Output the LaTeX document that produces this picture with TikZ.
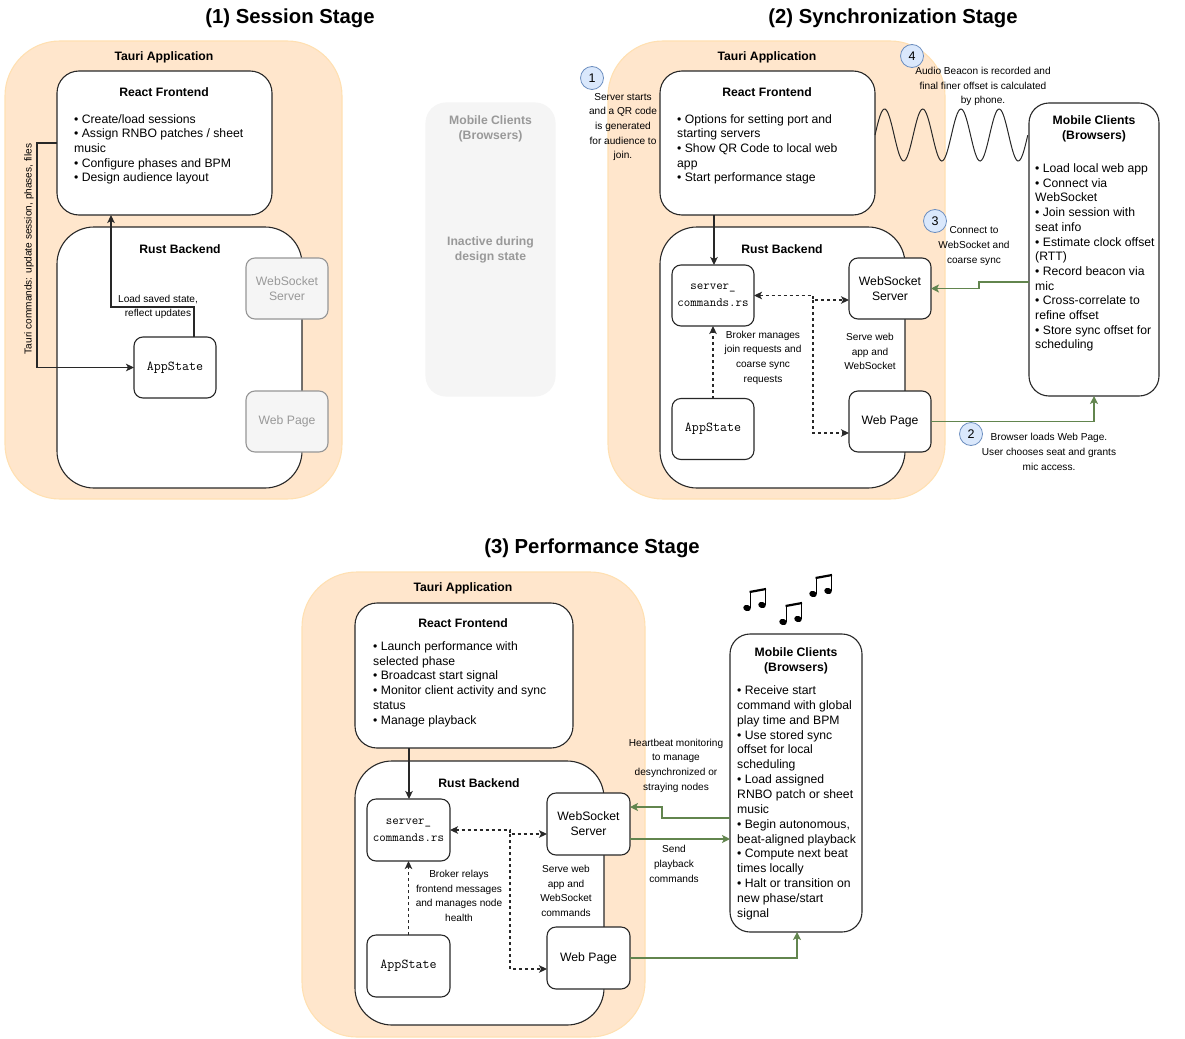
\documentclass[tikz,border=0pt]{standalone}
\usepackage{fontspec}
\setmainfont{Liberation Sans}
\usepackage{xcolor}
\usetikzlibrary{arrows.meta}
\definecolor{tauriorange}{RGB}{255,230,204}
\definecolor{tauririm}{RGB}{255,224,178}
\definecolor{boxline}{RGB}{40,40,40}
\definecolor{inactivefill}{RGB}{245,245,245}
\definecolor{inactiveline}{RGB}{150,150,150}
\definecolor{inactivetext}{RGB}{153,153,153}
\definecolor{linkgreen}{RGB}{98,133,78}
\definecolor{badgeblue}{RGB}{218,232,252}
\definecolor{badgeline}{RGB}{108,142,191}
\tikzset{
	basebox/.style={anchor=north west,inner sep=0pt,outer sep=0pt,line width=1.1pt},
	tauribox/.style={basebox,fill=tauriorange,draw=tauririm,rounded corners=55pt},
	frontbox/.style={basebox,fill=white,draw=boxline,rounded corners=22pt},
	rustbox/.style={basebox,fill=white,draw=boxline,rounded corners=37pt},
	smallbox/.style={basebox,fill=white,draw=boxline,rounded corners=9pt,align=center,anchor=center,font=\fontsize{12.2}{15}\selectfont},
	monobox/.style={smallbox,font=\fontsize{13.6}{17}\selectfont\ttfamily},
	greybox/.style={smallbox,fill=inactivefill,draw=inactiveline,text=inactivetext},
	clientbox/.style={basebox,fill=white,draw=boxline,rounded corners=20pt},
	stagetitle/.style={font=\fontsize{20.3}{25}\selectfont\bfseries,inner sep=0pt,yshift=-2pt},
	boxtitle/.style={font=\fontsize{12.2}{15}\selectfont\bfseries,align=center,inner sep=0pt,yshift=-1pt},
	listtext/.style={font=\fontsize{12.2}{14.7}\selectfont,align=left,anchor=north west,inner sep=0pt,yshift=-1pt},
	smalltext/.style={font=\fontsize{10.1}{14.7}\selectfont,align=center,inner sep=0pt,yshift=-1pt},
	badge/.style={circle,fill=badgeblue,draw=badgeline,line width=0.8pt,minimum size=23pt,inner sep=0pt,font=\fontsize{12.5}{15}\selectfont},
	flowline/.style={line width=1.1pt,draw=boxline,-{Stealth[length=8pt,width=7.5pt,inset=2pt]}},
	dashline/.style={line width=1.1pt,draw=boxline,dash pattern=on 3pt off 3pt,-{Stealth[length=8pt,width=7.5pt,inset=2pt]}},
	greenline/.style={line width=1.3pt,draw=linkgreen,-{Stealth[length=8pt,width=8pt,inset=2pt]}},
	notepair/.pic={
		\fill[rotate around={-15:(0,0)}] (0,0) ellipse (3.8 and 3.1);
		\fill[rotate around={-15:(15,-3)}] (15,-3) ellipse (3.8 and 3.1);
		\draw[line width=1.4pt] (3.3,0) -- (3.3,-16);
		\draw[line width=1.4pt] (18.3,-3) -- (18.3,-19);
		\draw[line width=2.2pt] (2.6,-16) -- (19,-19);
	}
}
\begin{document}
\begin{tikzpicture}[x=1pt,y=-1pt]
	\useasboundingbox (0,0) rectangle (1185,1038);

	% Session stage
	\node[stagetitle] (title1) at (290,16) {(1) Session Stage};
	\node[tauribox,minimum width=337pt,minimum height=458pt] (app1) at (5,41) {};
	\node[boxtitle] (applabel1) at (164,56) {Tauri Application};
	\node[frontbox,minimum width=215pt,minimum height=144pt] (front1) at (57,71) {};
	\node[boxtitle] (frontlabel1) at (164,91) {React Frontend};
	\node[listtext] (frontlist1) at (74,113) {• Create/load sessions\\• Assign RNBO patches / sheet\\music\\• Configure phases and BPM\\• Design audience layout};
	\node[rustbox,minimum width=245pt,minimum height=261pt] (rust1) at (57,227) {};
	\node[boxtitle] (rustlabel1) at (180,248) {Rust Backend};
	\node[monobox,minimum width=82pt,minimum height=61pt] (state1) at (175,367.5) {AppState};
	\node[greybox,minimum width=82pt,minimum height=61pt] (ws1) at (287,288.5) {WebSocket\\Server};
	\node[greybox,minimum width=82pt,minimum height=61pt] (web1) at (287,421.5) {Web Page};
	\node[basebox,fill=inactivefill,draw=inactivefill,rounded corners=20pt,minimum width=129pt,minimum height=293pt] (client1) at (426,103) {};
	\node[boxtitle,text=inactivetext] (clientlabel1) at (490.5,128) {Mobile Clients\\(Browsers)};
	\node[boxtitle,text=inactivetext] (inactive1) at (490.5,249) {Inactive during\\design state};

	% Tauri commands and state updates
	\coordinate (stateout1) at (194,337);
	\coordinate (frontin1) at (111,215);
	\draw[flowline] (front1.west |- 0,143) -- (37,143) |- (state1.west);
	\draw[flowline] (stateout1) -- (194,307) -- (111,307) -- (frontin1);
	\node[smalltext,rotate=90] (cmdlabel1) at (29,248) {Tauri commands: update session, phases, files};
	\node[smalltext] (loadlabel1) at (158,306) {Load saved state,\\reflect updates};

	% Synchronization stage
	\node[stagetitle] (title2) at (893,16) {(2) Synchronization Stage};
	\node[tauribox,minimum width=337pt,minimum height=458pt] (app2) at (608,41) {};
	\node[boxtitle] (applabel2) at (767,56) {Tauri Application};
	\node[frontbox,minimum width=215pt,minimum height=144pt] (front2) at (660,71) {};
	\node[boxtitle] (frontlabel2) at (767,91) {React Frontend};
	\node[listtext] (frontlist2) at (677,113) {• Options for setting port and\\starting servers\\• Show QR Code to local web\\app\\• Start performance stage};
	\node[rustbox,minimum width=245pt,minimum height=261pt] (rust2) at (660,227) {};
	\node[boxtitle] (rustlabel2) at (782,248) {Rust Backend};
	\node[monobox,font=\fontsize{12.6}{17}\selectfont\ttfamily,minimum width=82pt,minimum height=61pt] (srv2) at (713,295.5) {server\_\\commands.rs};
	\node[monobox,minimum width=82pt,minimum height=61pt] (state2) at (713,429) {AppState};
	\node[smallbox,minimum width=82pt,minimum height=61pt] (ws2) at (890,288.5) {WebSocket\\Server};
	\node[smallbox,minimum width=82pt,minimum height=61pt] (web2) at (890,421.5) {Web Page};
	\node[clientbox,minimum width=130pt,minimum height=293pt] (client2) at (1029,103) {};
	\node[boxtitle] (clientlabel2) at (1094,128) {Mobile Clients\\(Browsers)};
	\node[listtext] (clientlist2) at (1035,162.5) {• Load local web app\\• Connect via\\WebSocket\\• Join session with\\seat info\\• Estimate clock offset\\(RTT)\\• Record beacon via\\mic\\• Cross-correlate to\\refine offset\\• Store sync offset for\\scheduling};

	% Sync links
	\coordinate (jct2) at (813,300);
	\coordinate (webin2) at (849,433);
	\coordinate (clientout2) at (1029,282);
	\coordinate (clientin2) at (1094,396);
	\draw[flowline] (714,215) -- (714,265);
	\draw[dashline] (state2.north) -- (srv2.south);
	\draw[dashline,{Stealth[length=8pt,width=7.5pt,inset=2pt]}-{Stealth[length=8pt,width=7.5pt,inset=2pt]}] (srv2.east) -| (jct2) -- (jct2 -| ws2.west);
	\draw[dashline] (jct2) |- (webin2);
	\draw[greenline] (clientout2) -- (979,282) -- (979,288.5) -- (ws2.east);
	\draw[greenline] (web2.east) -| (clientin2);

	% Audio beacon
	\draw[line width=1pt,draw=boxline,smooth] plot[domain=0:4,samples=120] ({875+38.2*\x},{135-26*sin(360*\x)});

	% Step badges
	\node[badge] (step1) at (592,78) {1};
	\node[badge] (step4) at (912,56) {4};
	\node[badge] (step3) at (935,221) {3};
	\node[badge] (step2) at (971,434) {2};
	\node[smalltext] (steplabel1) at (623,126) {Server starts\\and a QR code\\is generated\\for audience to\\join.};
	\node[smalltext] (steplabel4) at (983,85.5) {Audio Beacon is recorded and\\final finer offset is calculated\\by phone.};
	\node[smalltext] (steplabel3) at (974,245) {Connect to\\WebSocket and\\coarse sync};
	\node[smalltext] (steplabel2) at (1049,451) {Browser loads Web Page.\\User chooses seat and grants\\mic access.};
	\node[smalltext] (brokerlabel2) at (763,356.5) {Broker manages\\join requests and\\coarse sync\\requests};
	\node[smalltext] (servelabel2) at (870,350.5) {Serve web\\app and\\WebSocket};

	% Performance stage
	\node[stagetitle] (title3) at (592,546) {(3) Performance Stage};
	\node[tauribox,minimum width=343pt,minimum height=465pt] (app3) at (302,572) {};
	\node[boxtitle] (applabel3) at (463,587) {Tauri Application};
	\node[frontbox,minimum width=218pt,minimum height=145pt] (front3) at (355,603) {};
	\node[boxtitle] (frontlabel3) at (463,622.5) {React Frontend};
	\node[listtext] (frontlist3) at (373,640.5) {• Launch performance with\\selected phase\\• Broadcast start signal\\• Monitor client activity and sync\\status\\• Manage playback};
	\node[rustbox,minimum width=249pt,minimum height=264pt] (rust3) at (355,761) {};
	\node[boxtitle] (rustlabel3) at (479,782.5) {Rust Backend};
	\node[monobox,font=\fontsize{12.6}{17}\selectfont\ttfamily,minimum width=83pt,minimum height=62pt] (srv3) at (408.5,830) {server\_\\commands.rs};
	\node[monobox,minimum width=83pt,minimum height=62pt] (state3) at (408.5,966) {AppState};
	\node[smallbox,minimum width=83pt,minimum height=62pt] (ws3) at (588.5,824) {WebSocket\\Server};
	\node[smallbox,minimum width=83pt,minimum height=62pt] (web3) at (588.5,958) {Web Page};
	\node[clientbox,minimum width=132pt,minimum height=298pt] (client3) at (730,634) {};
	\node[boxtitle] (clientlabel3) at (796,660) {Mobile Clients\\(Browsers)};
	\node[listtext,font=\fontsize{12.2}{14.85}\selectfont] (clientlist3) at (737,684.5) {• Receive start\\command with global\\play time and BPM\\• Use stored sync\\offset for local\\scheduling\\• Load assigned\\RNBO patch or sheet\\music\\• Begin autonomous,\\beat-aligned playback\\• Compute next beat\\times locally\\• Halt or transition on\\new phase/start\\signal};

	% Performance links
	\coordinate (jct3) at (510,834);
	\coordinate (webin3) at (547,969);
	\coordinate (clientout3) at (730,818);
	\coordinate (clientin3) at (797,932);
	\draw[flowline] (409,748) -- (409,799);
	\draw[dashline] (state3.north) -- (srv3.south);
	\draw[dashline,{Stealth[length=8pt,width=7.5pt,inset=2pt]}-{Stealth[length=8pt,width=7.5pt,inset=2pt]}] (srv3.east) -| (jct3) -- (jct3 -| ws3.west);
	\draw[dashline] (jct3) |- (webin3);
	\draw[greenline] (clientout3) -- (662,818) -- (662,807) -- (630,807);
	\draw[greenline] (630,839) -- (730,839);
	\draw[greenline] (web3.east) -| (clientin3);

	% Performance labels
	\node[smalltext] (heartlabel3) at (676,764.5) {Heartbeat monitoring\\to manage\\desynchronized or\\straying nodes};
	\node[smalltext] (sendlabel3) at (674,863) {Send\\playback\\commands};
	\node[smalltext] (servelabel3) at (566,890) {Serve web\\app and\\WebSocket\\commands};
	\node[smalltext] (brokerlabel3) at (459,895) {Broker relays\\frontend messages\\and manages node\\health};

	% Music notes
	\pic at (747,608) {notepair};
	\pic at (783,622) {notepair};
	\pic at (813,594) {notepair};
\end{tikzpicture}
\end{document}
